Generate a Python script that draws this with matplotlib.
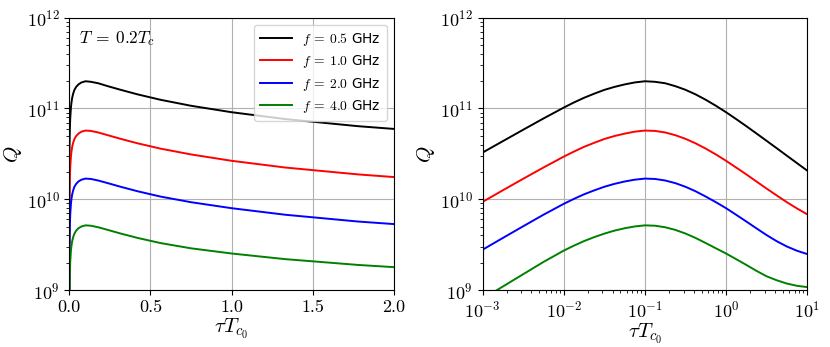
import numpy as np
import matplotlib
matplotlib.use('Agg')
import matplotlib.pyplot as plt

plt.rcParams['font.family'] = 'serif'
plt.rcParams['font.serif'] = ['cmr10']
plt.rcParams['mathtext.fontset'] = 'cm'
plt.rcParams['axes.formatter.use_mathtext'] = True

# tau*Tc0 sample points
tau = [1e-7, 1e-6, 1e-5, 1e-4,
       0.001, 0.00178, 0.00316, 0.00562, 0.01, 0.0133, 0.0178, 0.0237,
       0.0316, 0.0422, 0.0562, 0.075, 0.1, 0.133, 0.178, 0.237,
       0.316, 0.422, 0.562, 0.75, 1.0, 1.33, 1.78, 2.37,
       3.16, 4.22, 5.62, 7.5, 10.0]

# log10(Q) for each frequency
logq_05 = [8.515, 9.015, 9.515, 10.015,
           10.515, 10.641, 10.766, 10.89, 11.01, 11.066, 11.118, 11.163,
           11.205, 11.238, 11.265, 11.287, 11.300, 11.294, 11.278, 11.246,
           11.206, 11.155, 11.096, 11.03, 10.959, 10.884, 10.805, 10.725,
           10.644, 10.562, 10.48, 10.398, 10.316]
logq_10 = [7.97, 8.47, 8.97, 9.47,
           9.972, 10.10, 10.226, 10.35, 10.47, 10.525, 10.578, 10.622,
           10.664, 10.697, 10.723, 10.745, 10.757, 10.753, 10.736, 10.706,
           10.666, 10.616, 10.558, 10.494, 10.424, 10.35, 10.274, 10.196,
           10.118, 10.042, 9.968, 9.899, 9.835]
logq_20 = [7.44, 7.94, 8.44, 8.94,
           9.445, 9.575, 9.703, 9.83, 9.95, 10.004, 10.055, 10.098,
           10.138, 10.17, 10.196, 10.216, 10.228, 10.224, 10.207, 10.178,
           10.138, 10.088, 10.03, 9.968, 9.902, 9.83, 9.755, 9.68,
           9.606, 9.538, 9.48, 9.433, 9.397]
logq_40 = [6.90, 7.40, 7.90, 8.40,
           8.905, 9.04, 9.175, 9.31, 9.435, 9.489, 9.54, 9.583,
           9.622, 9.655, 9.681, 9.701, 9.713, 9.709, 9.692, 9.663,
           9.623, 9.574, 9.518, 9.46, 9.403, 9.341, 9.277, 9.212,
           9.152, 9.108, 9.072, 9.047, 9.033]

freqs = ['0.5', '1.0', '2.0', '4.0']
colors = ['black', 'red', 'blue', 'green']
series = [logq_05, logq_10, logq_20, logq_40]

tau = np.array(tau)

fig = plt.figure(figsize=(8.3, 3.47), dpi=100)
ax1 = fig.add_axes([0.0835, 0.164, 0.391, 0.785])
ax2 = fig.add_axes([0.5815, 0.164, 0.391, 0.785])

for f, c, lq in zip(freqs, colors, series):
    q = 10 ** np.array(lq)
    ax1.plot(tau, q, color=c, lw=1.4, label=r'$f\:=\:' + f + r'$ GHz')
    ax2.plot(tau, q, color=c, lw=1.4)

# left: linear tau
ax1.set_yscale('log')
ax1.set_xlim(0, 2)
ax1.set_ylim(1e9, 1e12)
ax1.set_xticks([0.0, 0.5, 1.0, 1.5, 2.0])
ax1.set_xticklabels(['0.0', '0.5', '1.0', '1.5', '2.0'])
ax1.grid(True, which='major')
ax1.set_xlabel(r'$\tau T_{c_0}$', fontsize=15, labelpad=1)
ax1.set_ylabel(r'$Q$', fontsize=15, labelpad=2)
ax1.tick_params(labelsize=13)
ax1.text(0.03, 0.96, r'$T\:=\:0.2T_c$', transform=ax1.transAxes,
         va='top', ha='left', fontsize=12.5)
leg = ax1.legend(loc='upper right', prop={'family': 'DejaVu Sans', 'size': 9.8},
                 handlelength=2.3, borderpad=0.45, labelspacing=0.4)

# right: log tau
ax2.set_xscale('log')
ax2.set_yscale('log')
ax2.set_xlim(1e-3, 10)
ax2.set_ylim(1e9, 1e12)
ax2.grid(True, which='major')
ax2.set_xlabel(r'$\tau T_{c_0}$', fontsize=15, labelpad=1)
ax2.set_ylabel(r'$Q$', fontsize=15, labelpad=2)
ax2.tick_params(labelsize=13)

fig.savefig('out.png', dpi=100)
